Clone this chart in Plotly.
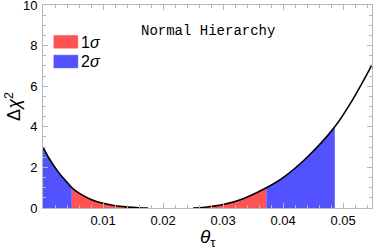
import plotly.graph_objects as go

# Left branch of the Δχ² curve
theta_left = [0.0, 0.001, 0.002, 0.003, 0.004, 0.0048, 0.006, 0.008, 0.010, 0.012, 0.014, 0.016, 0.0175]
chi2_left = [3.0, 2.45, 2.0, 1.6, 1.27, 1.0, 0.73, 0.42, 0.23, 0.11, 0.05, 0.015, 0.0]

# Right branch of the Δχ² curve
theta_right = [0.0250, 0.027, 0.030, 0.033, 0.0372, 0.040, 0.044, 0.0486, 0.0517, 0.0548]
chi2_right = [0.0, 0.04, 0.17, 0.42, 1.0, 1.5, 2.5, 4.0, 5.4, 7.05]

y_ticks = [0, 2, 4, 6, 8, 10]
x_ticks = [0.01, 0.02, 0.03, 0.04, 0.05]
x_ticklabels = ["0.01", "0.02", "0.03", "0.04", "0.05"]

RED = "rgb(255,82,82)"
BLUE = "rgb(82,82,255)"

fig = go.Figure()

def area(xs, ys, color):
    fig.add_trace(go.Scatter(x=xs, y=ys, mode="lines", fill="tozeroy",
                             fillcolor=color, line=dict(width=0, shape="spline", color=color),
                             hoverinfo="skip", showlegend=False))

# left: blue (2σ) for Δχ²>1, red (1σ) for Δχ²<1
area(theta_left[:6], chi2_left[:6], BLUE)
area(theta_left[5:], chi2_left[5:], RED)
# right: red up to Δχ²=1, blue up to Δχ²=4
area(theta_right[:5], chi2_right[:5], RED)
area(theta_right[4:8], chi2_right[4:8], BLUE)

for xs, ys in [(theta_left, chi2_left), (theta_right, chi2_right)]:
    fig.add_trace(go.Scatter(x=xs, y=ys, mode="lines",
                             line=dict(color="black", width=1.6, shape="spline"),
                             hoverinfo="skip", showlegend=False))

frame = "#b8b8b8"
fig.update_xaxes(range=[0.0, 0.0548], showgrid=False, zeroline=False,
                 showline=True, linecolor=frame, linewidth=1, mirror="ticks",
                 ticks="inside", ticklen=5, tickcolor=frame,
                 tickvals=x_ticks, ticktext=x_ticklabels,
                 minor=dict(ticks="inside", ticklen=3, tickcolor=frame, dtick=0.002, tick0=0),
                 tickfont=dict(family="Liberation Sans", size=13, color="black"))
fig.update_yaxes(range=[0, 10.001], showgrid=False, zeroline=False, automargin=False,
                 showline=True, linecolor=frame, linewidth=1, mirror="ticks",
                 ticks="inside", ticklen=5, tickcolor=frame,
                 tickvals=y_ticks, ticklabeloverflow="allow",
                 minor=dict(ticks="inside", ticklen=3, tickcolor=frame, dtick=0.5, tick0=0),
                 ticklabelstandoff=2,
                 tickfont=dict(family="Liberation Sans", size=13, color="black"))

annotations = [
    dict(text="Normal Hierarchy", xref="paper", yref="paper", x=0.5, y=0.92,
         showarrow=False, font=dict(family="Liberation Mono", size=14, color="black")),
    dict(text="<i>θ</i><sub>τ</sub>", xref="paper", yref="paper", x=0.5, y=-0.15,
         yanchor="middle", showarrow=False,
         font=dict(family="Liberation Sans", size=19, color="black")),
    dict(text="Δ<i>χ</i><sup>2</sup>", xref="paper", yref="paper", x=-0.09, y=0.5,
         textangle=-90, xanchor="center", yanchor="middle", showarrow=False,
         font=dict(family="Liberation Sans", size=18, color="black")),
    dict(text="1<i>σ</i>", xref="paper", yref="paper", x=0.108, y=0.815,
         xanchor="left", yanchor="middle", showarrow=False,
         font=dict(family="Liberation Sans", size=16, color="black")),
    dict(text="2<i>σ</i>", xref="paper", yref="paper", x=0.108, y=0.72,
         xanchor="left", yanchor="middle", showarrow=False,
         font=dict(family="Liberation Sans", size=16, color="black")),
]
shapes = [
    dict(type="rect", xref="paper", yref="paper", x0=0.033, x1=0.106, y0=0.787, y1=0.85,
         fillcolor=RED, line=dict(width=0.5, color=RED)),
    dict(type="rect", xref="paper", yref="paper", x0=0.033, x1=0.106, y0=0.69, y1=0.753,
         fillcolor=BLUE, line=dict(width=0.5, color=BLUE)),
]

fig.update_layout(width=374, height=250, margin=dict(l=43, r=2, t=5, b=42),
                  plot_bgcolor="white", paper_bgcolor="white",
                  annotations=annotations, shapes=shapes, showlegend=False)

fig.write_html("out.html", config={"displayModeBar": False},
               post_script="document.body.style.margin='0';document.body.style.overflow='hidden';")
